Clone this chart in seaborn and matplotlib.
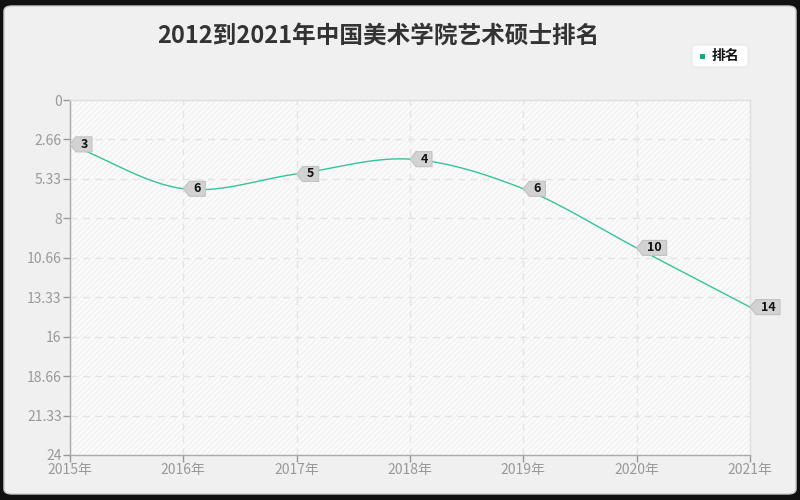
import numpy as np
import pandas as pd
import matplotlib
matplotlib.use("Agg")
import matplotlib.pyplot as plt
from matplotlib.patches import FancyBboxPatch, Rectangle, Polygon
from matplotlib.transforms import ScaledTranslation
import seaborn as sns

years = ["2015年", "2016年", "2017年", "2018年", "2019年", "2020年", "2021年"]
ranks = [3, 6, 5, 4, 6, 10, 14]
yticks = [0, 2.66, 5.33, 8, 10.66, 13.33, 16, 18.66, 21.33, 24]
ytick_labels = ["0", "2.66", "5.33", "8", "10.66", "13.33", "16", "18.66", "21.33", "24"]
title = "2012到2021年中国美术学院艺术硕士排名"
series_name = "排名"

sns.set_theme(style="white")
plt.rcParams['font.family'] = ['Noto Sans CJK SC', 'DejaVu Sans']

LINE = "#34c49b"

fig = plt.figure(figsize=(8, 5), dpi=100, facecolor="#111111")
panel = FancyBboxPatch((4 / 800, 6 / 500), 792 / 800, 488 / 500,
                       boxstyle="round,pad=0,rounding_size=0.01",
                       transform=fig.transFigure, fc="#f0f0f0", ec="#cccccc", lw=1, zorder=-10)
fig.patches.append(panel)

ax = fig.add_axes([70 / 800, 45 / 500, 680 / 800, 355 / 500])
ax.set_zorder(1)
ax.set_facecolor("#fbfbfb")
ax.add_patch(Rectangle((0, 0), 1, 1, transform=ax.transAxes, fc="none",
                       ec="#f1f1f1", hatch="//////", lw=0, zorder=0))

# smooth curve through the data points (Catmull-Rom rendering)
xs = np.arange(len(ranks), dtype=float)
ys = np.array(ranks, dtype=float)
px = np.concatenate([[2 * xs[0] - xs[1]], xs, [2 * xs[-1] - xs[-2]]])
py = np.concatenate([[2 * ys[0] - ys[1]], ys, [2 * ys[-1] - ys[-2]]])
cx, cy = [], []
for i in range(1, len(px) - 2):
    t = np.linspace(0, 1, 40)
    for arr, out in ((px, cx), (py, cy)):
        p0, p1, p2, p3 = arr[i - 1], arr[i], arr[i + 1], arr[i + 2]
        out.extend(0.5 * ((2 * p1) + (-p0 + p2) * t + (2 * p0 - 5 * p1 + 4 * p2 - p3) * t ** 2
                          + (-p0 + 3 * p1 - 3 * p2 + p3) * t ** 3))
curve = pd.DataFrame({"x": cx, "y": cy})
sns.lineplot(data=curve, x="x", y="y", ax=ax, color=LINE, lw=1, sort=False, zorder=3)

# pentagon-shaped value labels with the tip at each point
for x, y in zip(xs, ys):
    txt = f"{int(y)}"
    w_px = 8 + 8 * len(txt)
    tip, h = 6, 7.5
    verts = np.array([[0, 0], [tip, -h], [tip + w_px, -h], [tip + w_px, h], [tip, h]]) / fig.dpi
    trans = fig.dpi_scale_trans + ScaledTranslation(x, y, ax.transData)
    ax.add_patch(Polygon(verts, closed=True, transform=trans, fc="#d2d2d2", ec="#c2c2c2",
                         lw=0.8, zorder=5, clip_on=False))
    cx_pt = (tip + w_px / 2) * 72 / fig.dpi
    ax.annotate(txt, (x, y), xytext=(cx_pt, 0), textcoords="offset points",
                ha="center", va="center", fontsize=9, fontweight="bold",
                color="#111111", zorder=6, annotation_clip=False)

ax.set_xlim(0, len(years) - 1)
ax.set_ylim(24, 0)
ax.set_xticks(xs)
ax.set_xticklabels(years)
ax.set_yticks(yticks)
ax.set_yticklabels(ytick_labels)
ax.set_xlabel("")
ax.set_ylabel("")
ax.grid(True, ls=(0, (5, 4)), color="#e4e4e4", lw=1)
ax.tick_params(axis="both", colors="#999999", labelsize=10, length=5, width=1,
               direction="out", left=True, bottom=True, pad=1)
for s in ["left", "bottom"]:
    ax.spines[s].set_color("#aaaaaa")
    ax.spines[s].set_linewidth(1)
for s in ["top", "right"]:
    ax.spines[s].set_color("#e0e0e0")
    ax.spines[s].set_linewidth(1)

fig.text(378 / 800, 1 - 36 / 500, title, ha="center", va="center", fontsize=17,
         color="#333333", fontweight="bold")

leg = FancyBboxPatch((692 / 800, 1 - 67 / 500), 56 / 800, 22 / 500,
                     boxstyle="round,pad=0,rounding_size=0.006", transform=fig.transFigure,
                     fc="white", ec="#e8e8e8", lw=0.8, zorder=2)
fig.patches.append(leg)
fig.patches.append(Rectangle((700 / 800, 1 - 59 / 500), 5 / 800, 5 / 500,
                             transform=fig.transFigure, fc="#00b383", ec="none", zorder=3))
fig.text(712 / 800, 1 - 56 / 500, series_name, ha="left", va="center", fontsize=10,
         color="#111111", fontweight="bold", zorder=4)

fig.savefig("out.png", dpi=100, facecolor=fig.get_facecolor())
